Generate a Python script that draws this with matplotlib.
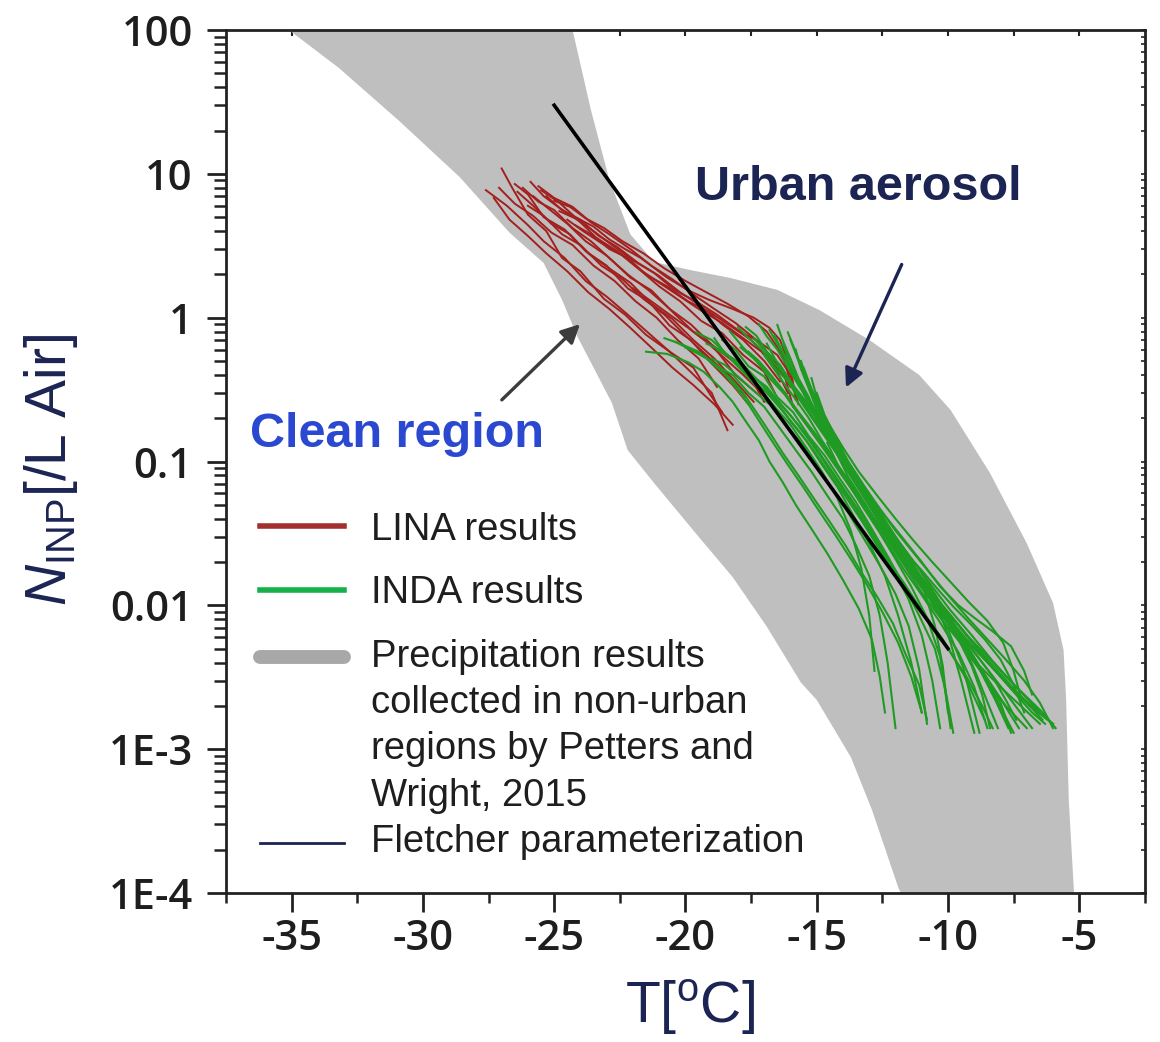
import matplotlib
matplotlib.use("Agg")
import matplotlib.pyplot as plt
from matplotlib.lines import Line2D
from matplotlib.legend_handler import HandlerBase

plt.rcParams['mathtext.fontset'] = 'custom'
plt.rcParams['mathtext.rm'] = 'Liberation Sans'
plt.rcParams['mathtext.it'] = 'Liberation Sans:italic'
plt.rcParams['axes.unicode_minus'] = False

# grey band: Petters and Wright 2015 precipitation results
region_upper_T = [-24.3, -23.6, -22.9, -22.1, -21.2, -19.8, -18.3, -16.5, -14.9, -13.0,
                  -11.1, -9.9, -8.4, -7.0, -6.0, -5.6, -5.5, -5.4, -5.2]
region_upper_N = [100, 27.8, 9.1, 3.8, 2.44, 2.14, 1.89, 1.56, 1.13, 0.70,
                  0.40, 0.228, 0.083, 0.027, 0.0104, 0.0049, 0.0022, 4.4e-4, 1e-4]
region_lower_T = [-35.1, -33.2, -30.9, -28.6, -26.7, -25.4, -24.7, -24.1, -23.5, -22.8,
                  -22.2, -21.2, -19.5, -18.2, -16.9, -15.6, -15.0, -13.7, -12.9, -11.9, -11.8]
region_lower_N = [100, 54.5, 23.3, 9.5, 3.9, 2.4, 1.33, 0.73, 0.45, 0.255,
                  0.12, 0.071, 0.030, 0.0157, 0.0071, 0.0029, 0.0022, 8.8e-4, 3.8e-4, 1.1e-4, 1e-4]

# LINA results (red)
lina_T = [
    [-27.6, -26.8, -26.0, -25.4, -24.6, -23.8, -23.0, -22.2, -21.4, -20.6, -19.8, -19.0, -18.4],
    [-27.0, -26.6, -26.0, -25.3, -24.7, -24.0, -23.1, -22.3, -21.5, -20.6, -19.7, -19.1, -18.6],
    [-26.5, -26.0, -25.4, -24.6, -23.8, -23.0, -22.2, -21.4, -20.6, -19.8, -19.0, -18.2, -17.6],
    [-26.2, -25.6, -25.0, -24.3, -23.6, -22.9, -22.1, -21.3, -20.5, -19.7, -18.9, -18.1, -17.3],
    [-25.9, -25.4, -24.8, -24.1, -23.4, -22.6, -21.8, -21.0, -20.2, -19.4, -18.6, -17.8, -17.0, -16.6],
    [-25.6, -25.0, -24.3, -23.6, -22.9, -22.1, -21.3, -20.5, -19.7, -18.9, -18.1, -17.3, -16.6, -16.0],
    [-25.5, -24.8, -24.2, -23.5, -22.9, -22.3, -21.7, -20.7, -19.9, -19.1, -18.2, -17.4, -16.8, -16.4, -16.0, -15.8],
    [-25.0, -24.4, -23.8, -23.1, -22.4, -21.6, -20.8, -20.0, -19.2, -18.4, -17.6, -16.9, -16.3, -16.0],
    [-27.3, -26.7, -26.0, -25.3, -24.5, -23.7, -22.9, -22.1, -21.3, -20.5, -19.7, -18.9, -18.2],
    [-26.4, -25.8, -25.1, -24.4, -23.7, -22.9, -22.1, -21.3, -20.5, -19.7, -18.9, -18.1, -17.4],
    [-25.3, -24.7, -24.0, -23.3, -22.6, -21.8, -21.0, -20.2, -19.4, -18.6, -17.8, -17.0, -16.4],
    [-24.8, -24.2, -23.5, -22.8, -22.0, -21.2, -20.4, -19.6, -18.8, -18.0, -17.2, -16.5, -16.0, -15.7],
    [-26.0, -25.4, -24.7, -24.0, -23.2, -22.4, -21.6, -20.8, -20.0, -19.2, -18.4, -17.7],
    [-25.8, -25.2, -24.5, -23.8, -23.0, -22.2, -21.4, -20.6, -19.8, -19.0, -18.2, -17.5, -17.0],
    [-24.5, -23.9, -23.2, -22.5, -21.8, -21.0, -20.2, -19.4, -18.6, -17.8, -17.1, -16.5, -16.1],
    [-27.1, -26.5, -25.8, -25.1, -24.3, -23.5, -22.7, -21.9, -21.1, -20.3, -19.5, -18.8],
    [-24.2, -23.6, -22.9, -22.2, -21.5, -20.7, -19.9, -19.1, -18.3, -17.5, -16.8, -16.2, -15.9],
    [-22.0, -21.3, -20.6, -19.9, -19.2, -18.5, -17.8, -17.1, -16.5],
]
lina_N = [
    [7.7, 6.0, 4.4, 3.4, 2.6, 1.8, 1.4, 1.05, 0.78, 0.58, 0.42, 0.30, 0.165],
    [10.9, 8.0, 5.2, 4.0, 2.6, 2.1, 1.35, 1.05, 0.76, 0.58, 0.45, 0.30, 0.22],
    [8.5, 7.2, 5.0, 4.1, 2.9, 2.3, 1.6, 1.3, 0.88, 0.70, 0.48, 0.34, 0.25],
    [8.0, 6.4, 5.6, 4.2, 3.4, 2.6, 1.9, 1.55, 1.1, 0.80, 0.62, 0.40, 0.30],
    [8.8, 7.0, 5.8, 4.8, 3.6, 2.9, 2.2, 1.65, 1.30, 0.95, 0.78, 0.55, 0.42, 0.30],
    [8.2, 6.8, 5.9, 4.6, 3.8, 3.0, 2.3, 1.85, 1.45, 1.15, 0.92, 0.70, 0.50, 0.33],
    [7.7, 6.3, 5.0, 4.3, 3.5, 3.0, 2.6, 1.9, 1.55, 1.33, 1.15, 1.0, 0.85, 0.70, 0.45, 0.27],
    [6.5, 5.9, 4.9, 4.2, 3.4, 2.8, 2.2, 1.8, 1.5, 1.25, 1.02, 0.80, 0.55, 0.36],
    [6.8, 4.8, 3.7, 2.8, 2.1, 1.5, 1.15, 0.85, 0.62, 0.45, 0.34, 0.25, 0.18],
    [7.5, 6.0, 4.5, 3.8, 2.8, 2.2, 1.75, 1.25, 0.98, 0.70, 0.52, 0.36, 0.26],
    [7.0, 5.6, 4.8, 3.7, 3.1, 2.4, 1.95, 1.50, 1.20, 0.90, 0.70, 0.50, 0.36],
    [5.5, 4.9, 4.0, 3.2, 2.5, 2.05, 1.55, 1.30, 1.05, 0.82, 0.68, 0.55, 0.40, 0.25],
    [6.0, 5.1, 3.8, 3.2, 2.3, 1.85, 1.35, 1.05, 0.75, 0.55, 0.40, 0.28],
    [7.0, 5.7, 4.5, 3.4, 2.7, 2.0, 1.55, 1.15, 0.90, 0.65, 0.50, 0.38, 0.26],
    [4.8, 4.0, 3.3, 2.8, 2.2, 1.75, 1.40, 1.12, 0.92, 0.72, 0.58, 0.42, 0.30],
    [8.0, 6.2, 5.1, 3.9, 3.2, 2.3, 1.8, 1.3, 1.0, 0.70, 0.52, 0.33],
    [4.4, 3.8, 3.0, 2.6, 2.0, 1.65, 1.30, 1.10, 0.88, 0.70, 0.52, 0.38, 0.24],
    [1.6, 1.30, 1.05, 0.85, 0.68, 0.52, 0.40, 0.30, 0.22],
]

# INDA results (green)
inda_T = [
    [-21.5, -20.7, -19.9, -19.3, -18.7, -18.2, -17.7, -17.2, -16.8, -16.3, -15.8, -15.2, -14.6, -14.0, -13.4, -12.9, -12.6, -12.4],
    [-20.8, -20.2, -19.5, -18.8, -18.2, -17.6, -17.0, -16.4, -15.8, -15.2, -14.6, -14.0, -13.5, -13.0, -12.6, -12.3, -12.0],
    [-19.6, -19.0, -18.4, -17.8, -17.2, -16.6, -16.0, -15.4, -14.8, -14.2, -13.6, -13.0, -12.4, -11.9, -11.4, -11.0],
    [-19.2, -18.7, -18.1, -17.5, -16.9, -16.3, -15.7, -15.1, -14.5, -13.9, -13.3, -12.7, -12.1, -11.5, -11.0, -10.6, -10.3],
    [-18.6, -18.1, -17.6, -17.0, -16.5, -15.9, -15.3, -14.7, -14.1, -13.5, -12.9, -12.3, -11.7, -11.1, -10.5, -10.1, -9.8],
    [-18.0, -17.6, -17.1, -16.6, -16.1, -15.6, -15.0, -14.4, -13.8, -13.2, -12.6, -12.0, -11.4, -10.7, -10.0, -9.4, -8.8],
    [-17.7, -17.3, -16.9, -16.4, -15.9, -15.4, -14.9, -14.3, -13.7, -13.1, -12.5, -11.9, -11.2, -10.5, -9.7, -9.0, -8.1],
    [-17.2, -16.9, -16.5, -16.1, -15.7, -15.2, -14.7, -14.2, -13.6, -13.0, -12.4, -11.8, -11.1, -10.4, -9.6, -8.6, -7.5],
    [-16.5, -16.3, -16.0, -15.7, -15.3, -14.9, -14.4, -13.9, -13.3, -12.7, -12.1, -11.4, -10.7, -9.9, -9.0, -7.9, -6.8],
    [-16.1, -15.7, -15.3, -14.8, -14.3, -13.7, -13.1, -12.4, -11.7, -11.0, -10.3, -9.6, -9.0, -8.3, -7.6, -7.1, -6.8],
    [-16.8, -16.5, -16.1, -15.7, -15.3, -14.8, -14.3, -13.7, -13.1, -12.5, -11.9, -11.2, -10.5, -9.8, -9.0, -8.0, -6.9, -6.0],
    [-18.8, -18.3, -17.8, -17.2, -16.6, -16.0, -15.4, -14.8, -14.2, -13.6, -13.0, -12.4, -11.7, -11.0, -10.2, -9.4, -8.6],
    [-20.0, -19.4, -18.8, -18.3, -17.8, -17.3, -16.8, -16.3, -15.7, -15.1, -14.5, -13.9, -13.3, -12.7, -12.1, -11.6, -11.1, -10.8],
    [-17.4, -17.0, -16.6, -16.1, -15.6, -15.1, -14.6, -14.0, -13.4, -12.8, -12.2, -11.6, -10.9, -10.2, -9.5, -8.8, -8.2, -7.7],
    [-16.3, -16.0, -15.7, -15.3, -14.9, -14.4, -13.9, -13.3, -12.7, -12.0, -11.3, -10.6, -9.9, -9.1, -8.3, -7.4, -6.5, -6.2],
    [-15.8, -15.6, -15.3, -15.0, -14.6, -14.1, -13.5, -12.9, -12.2, -11.5, -10.9, -10.3, -9.9, -9.5, -9.0],
    [-16.0, -15.6, -15.1, -14.6, -14.0, -13.4, -12.7, -12.0, -11.3, -10.6, -9.9, -9.2, -8.5, -7.9, -7.5, -7.2],
    [-19.0, -18.5, -18.0, -17.4, -16.8, -16.2, -15.6, -15.0, -14.4, -13.8, -13.2, -12.6, -12.0, -11.5, -11.1, -10.8],
    [-17.9, -17.4, -16.9, -16.4, -15.9, -15.3, -14.7, -14.1, -13.5, -12.9, -12.3, -11.7, -11.0, -10.3, -9.6, -9.0, -8.5],
    [-15.5, -15.2, -14.8, -14.3, -13.8, -13.2, -12.6, -12.0, -11.3, -10.6, -9.9, -9.2, -8.5, -7.8, -7.1, -6.5, -6.0],
    [-17.0, -16.7, -16.3, -15.8, -15.3, -14.8, -14.2, -13.6, -13.0, -12.4, -11.8, -11.1, -10.4, -9.7, -8.9, -8.1, -7.3],
    [-18.3, -17.8, -17.3, -16.8, -16.2, -15.6, -15.0, -14.4, -13.8, -13.2, -12.6, -12.0, -11.4, -10.8, -10.3, -9.9],
    [-16.6, -16.3, -15.9, -15.5, -15.0, -14.5, -14.0, -13.4, -12.8, -12.2, -11.6, -11.0, -10.4, -9.8, -9.2, -8.5, -7.8, -7.0],
    [-15.2, -15.0, -14.7, -14.3, -13.9, -13.4, -12.9, -12.3, -11.7, -11.0, -10.3, -9.6, -8.9, -8.2, -7.5, -6.8, -6.3],
    [-14.8, -14.5, -14.1, -13.6, -13.1, -12.6, -12.0, -11.4, -10.8, -10.2, -9.6, -9.1, -8.7, -8.4],
    [-14.2, -13.8, -13.3, -12.8, -12.2, -11.6, -11.0, -10.3, -9.6, -8.9, -8.3, -7.8, -7.4],
    [-13.5, -13.0, -12.5, -12.0, -11.4, -10.8, -10.2, -9.5, -8.8, -8.1, -7.4, -6.7, -6.0],
    [-18.9, -18.6, -18.2, -17.7, -17.2, -16.6, -16.0, -15.4, -14.8, -14.2, -13.7, -13.3, -13.0, -12.8],
    [-16.9, -16.6, -16.2, -15.7, -15.2, -14.6, -14.0, -13.4, -12.8, -12.2, -11.5, -10.9, -10.5, -10.2, -10.0],
    [-16.2, -15.9, -15.5, -15.1, -14.6, -14.1, -13.5, -12.9, -12.3, -11.7, -11.1, -10.5, -9.8, -9.2, -8.6, -8.0, -7.6],
    [-17.6, -17.2, -16.7, -16.2, -15.7, -15.1, -14.5, -13.9, -13.3, -12.7, -12.1, -11.5, -10.9, -10.2, -9.5, -8.8, -8.0, -7.1, -6.5],
    [-15.6, -15.4, -15.1, -14.8, -14.4, -14.0, -13.5, -13.0, -12.5, -11.9, -11.3, -10.6, -9.9, -9.2, -8.5, -7.8, -7.1, -6.4, -5.9],
    [-14.6, -14.2, -13.7, -13.1, -12.4, -11.7, -11.0, -10.4, -9.8, -9.2, -8.6, -8.0, -7.5, -7.1],
    [-20.4, -19.8, -19.2, -18.6, -18.1, -17.6, -17.1, -16.6, -16.1, -15.5, -14.9, -14.3, -13.7, -13.1, -12.5, -11.9, -11.4, -11.0],
    [-18.4, -18.0, -17.5, -16.9, -16.3, -15.7, -15.1, -14.5, -13.9, -13.3, -12.7, -12.1, -11.4, -10.7, -10.0, -9.3, -8.7, -8.3],
    [-15.0, -14.7, -14.3, -13.9, -13.4, -12.9, -12.3, -11.7, -11.1, -10.5, -9.8, -9.1, -8.4, -7.7, -7.0, -6.4],
]
inda_N = [
    [0.58, 0.56, 0.49, 0.42, 0.33, 0.26, 0.19, 0.14, 0.10, 0.072, 0.050, 0.034, 0.023, 0.015, 0.0095, 0.0058, 0.0032, 0.0018],
    [0.72, 0.66, 0.58, 0.46, 0.40, 0.30, 0.24, 0.17, 0.12, 0.085, 0.058, 0.040, 0.026, 0.016, 0.0085, 0.0040, 0.0014],
    [0.79, 0.70, 0.55, 0.47, 0.36, 0.27, 0.19, 0.14, 0.095, 0.066, 0.042, 0.027, 0.016, 0.0085, 0.0040, 0.0018],
    [0.66, 0.60, 0.50, 0.40, 0.33, 0.24, 0.18, 0.13, 0.090, 0.062, 0.043, 0.028, 0.018, 0.011, 0.0062, 0.0030, 0.0014],
    [0.70, 0.60, 0.46, 0.39, 0.28, 0.22, 0.15, 0.11, 0.075, 0.052, 0.034, 0.022, 0.014, 0.0085, 0.0050, 0.0026, 0.0013],
    [0.86, 0.72, 0.60, 0.45, 0.36, 0.26, 0.18, 0.125, 0.085, 0.058, 0.040, 0.026, 0.017, 0.011, 0.0068, 0.0036, 0.0013],
    [0.86, 0.75, 0.58, 0.47, 0.34, 0.26, 0.19, 0.13, 0.090, 0.062, 0.042, 0.028, 0.019, 0.012, 0.0070, 0.0036, 0.0014],
    [0.90, 0.74, 0.60, 0.45, 0.34, 0.25, 0.17, 0.12, 0.080, 0.055, 0.038, 0.025, 0.016, 0.0105, 0.0065, 0.0032, 0.0013],
    [0.89, 0.70, 0.52, 0.38, 0.28, 0.19, 0.13, 0.090, 0.060, 0.040, 0.027, 0.018, 0.012, 0.0078, 0.0047, 0.0026, 0.0014],
    [0.79, 0.52, 0.33, 0.21, 0.14, 0.092, 0.062, 0.042, 0.029, 0.020, 0.0135, 0.0100, 0.0082, 0.0066, 0.0052, 0.0035, 0.0024],
    [0.82, 0.66, 0.48, 0.35, 0.25, 0.17, 0.12, 0.082, 0.056, 0.038, 0.025, 0.017, 0.011, 0.0075, 0.0050, 0.0032, 0.0020, 0.0015],
    [0.60, 0.53, 0.44, 0.36, 0.28, 0.21, 0.15, 0.105, 0.072, 0.050, 0.033, 0.022, 0.0145, 0.0092, 0.0058, 0.0033, 0.0016],
    [0.62, 0.56, 0.46, 0.38, 0.30, 0.22, 0.16, 0.115, 0.080, 0.055, 0.038, 0.026, 0.017, 0.0115, 0.0075, 0.0045, 0.0028, 0.0016],
    [0.72, 0.60, 0.48, 0.38, 0.28, 0.21, 0.15, 0.10, 0.068, 0.046, 0.031, 0.021, 0.0138, 0.0090, 0.0058, 0.0036, 0.0022, 0.0014],
    [0.65, 0.50, 0.37, 0.26, 0.19, 0.135, 0.092, 0.064, 0.044, 0.030, 0.020, 0.0135, 0.0092, 0.0062, 0.0041, 0.0027, 0.0018, 0.0016],
    [0.60, 0.44, 0.32, 0.23, 0.16, 0.11, 0.074, 0.050, 0.034, 0.022, 0.0140, 0.0088, 0.0055, 0.0030, 0.0013],
    [0.70, 0.45, 0.29, 0.19, 0.125, 0.085, 0.058, 0.040, 0.028, 0.020, 0.0145, 0.0105, 0.0078, 0.0055, 0.0035, 0.0022],
    [0.52, 0.47, 0.39, 0.31, 0.25, 0.18, 0.135, 0.095, 0.064, 0.044, 0.029, 0.019, 0.012, 0.0072, 0.0036, 0.0015],
    [0.62, 0.52, 0.42, 0.33, 0.24, 0.17, 0.120, 0.083, 0.058, 0.040, 0.027, 0.018, 0.0118, 0.0076, 0.0047, 0.0027, 0.0014],
    [0.45, 0.32, 0.22, 0.15, 0.10, 0.068, 0.047, 0.033, 0.023, 0.0160, 0.0112, 0.0080, 0.0058, 0.0042, 0.0030, 0.0021, 0.0014],
    [0.55, 0.46, 0.36, 0.27, 0.20, 0.14, 0.095, 0.066, 0.045, 0.031, 0.021, 0.014, 0.0094, 0.0062, 0.0040, 0.0024, 0.0014],
    [0.80, 0.62, 0.50, 0.38, 0.29, 0.21, 0.150, 0.105, 0.070, 0.047, 0.032, 0.021, 0.0135, 0.0082, 0.0044, 0.0014],
    [0.75, 0.58, 0.42, 0.31, 0.22, 0.155, 0.105, 0.072, 0.049, 0.033, 0.022, 0.015, 0.0100, 0.0068, 0.0045, 0.0030, 0.0020, 0.0014],
    [0.38, 0.28, 0.20, 0.145, 0.100, 0.070, 0.048, 0.033, 0.023, 0.0155, 0.0105, 0.0073, 0.0050, 0.0035, 0.0025, 0.0018, 0.0015],
    [0.22, 0.16, 0.115, 0.080, 0.056, 0.039, 0.027, 0.018, 0.0125, 0.0085, 0.0058, 0.0038, 0.0024, 0.0014],
    [0.11, 0.078, 0.056, 0.040, 0.028, 0.020, 0.014, 0.0095, 0.0065, 0.0045, 0.0032, 0.0022, 0.0016],
    [0.060, 0.044, 0.033, 0.024, 0.017, 0.012, 0.0088, 0.0063, 0.0046, 0.0034, 0.0025, 0.0019, 0.0015],
    [0.72, 0.60, 0.50, 0.40, 0.32, 0.24, 0.18, 0.125, 0.085, 0.055, 0.033, 0.018, 0.0085, 0.0035],
    [0.66, 0.52, 0.40, 0.29, 0.21, 0.145, 0.100, 0.068, 0.046, 0.031, 0.020, 0.0125, 0.0072, 0.0038, 0.0018],
    [0.55, 0.42, 0.31, 0.22, 0.158, 0.11, 0.076, 0.052, 0.036, 0.024, 0.0165, 0.0112, 0.0076, 0.0050, 0.0033, 0.0021, 0.0013],
    [0.58, 0.50, 0.39, 0.30, 0.22, 0.16, 0.112, 0.078, 0.054, 0.037, 0.025, 0.017, 0.0115, 0.0078, 0.0054, 0.0038, 0.0027, 0.0019, 0.0015],
    [0.50, 0.38, 0.28, 0.20, 0.145, 0.102, 0.072, 0.050, 0.036, 0.025, 0.0175, 0.0120, 0.0085, 0.0060, 0.0044, 0.0032, 0.0024, 0.0018, 0.0014],
    [0.135, 0.095, 0.066, 0.046, 0.033, 0.024, 0.0175, 0.013, 0.0098, 0.0076, 0.0058, 0.0042, 0.0028, 0.0018],
    [0.68, 0.60, 0.52, 0.42, 0.33, 0.25, 0.18, 0.13, 0.095, 0.066, 0.045, 0.031, 0.021, 0.014, 0.0090, 0.0055, 0.0032, 0.0018],
    [0.55, 0.48, 0.38, 0.30, 0.225, 0.165, 0.118, 0.082, 0.057, 0.039, 0.026, 0.0175, 0.0115, 0.0076, 0.0050, 0.0032, 0.0020, 0.0014],
    [0.30, 0.21, 0.15, 0.105, 0.073, 0.051, 0.035, 0.024, 0.0165, 0.0115, 0.0080, 0.0056, 0.0040, 0.0029, 0.0021, 0.0016],
]

# Fletcher parameterization
fletcher_T = [-25, -10]
fletcher_N = [30, 0.005]

y_ticks = [1e-4, 1e-3, 1e-2, 1e-1, 1, 10, 100]
y_labels = ['1E-4', '1E-3', '0.01', '0.1', '1', '10', '100']
x_ticks = [-35, -30, -25, -20, -15, -10, -5]

navy = '#1b2452'
red = '#a3201f'
green = '#1f9a22'
grey = '#bfbfbf'
LINE_STEP = 1.217


class HandlerTwoRows(HandlerBase):
    # grey line next to the first text row, navy line next to the last one
    def create_artists(self, legend, orig_handle, xdescent, ydescent,
                       width, height, fontsize, trans):
        top, bottom = orig_handle
        yc = (height - ydescent) / 2
        off = 2 * LINE_STEP * fontsize
        xs = [-xdescent, -xdescent + width]
        out = []
        for h, y in ((top, yc + off), (bottom, yc - off)):
            ln = Line2D(xs, [y, y], color=h.get_color(), lw=h.get_linewidth(),
                        solid_capstyle=h.get_solid_capstyle())
            ln.set_transform(trans)
            out.append(ln)
        return out


fig = plt.figure(figsize=(11.6, 10.42), dpi=100)
ax = fig.add_axes([0.1948, 0.1430, 0.7922, 0.8282])

ax.fill(region_upper_T + region_lower_T[::-1], region_upper_N + region_lower_N[::-1],
        color=grey, lw=0, zorder=1)

for t, n in zip(lina_T, lina_N):
    ax.plot(t, n, color=red, lw=1.4, zorder=2)
for t, n in zip(inda_T, inda_N):
    ax.plot(t, n, color=green, lw=1.5, zorder=3)
ax.plot(fletcher_T, fletcher_N, color='black', lw=2.6, zorder=4)

ax.set_yscale('log')
ax.set_xlim(-37.5, -2.5)
ax.set_ylim(1e-4, 100)
ax.set_yticks(y_ticks, y_labels)
ax.set_xticks(x_ticks)
ax.set_xticks([-37.5, -32.5, -27.5, -22.5, -17.5, -12.5, -7.5, -2.5], minor=True)

tick_font = dict(family='Open Sans', weight='semibold', size=30)
for lab in ax.get_xticklabels() + ax.get_yticklabels():
    lab.set_fontproperties(matplotlib.font_manager.FontProperties(**tick_font))
    lab.set_color('#1e1e1e')

for s in ax.spines.values():
    s.set_linewidth(2.0)
    s.set_color('#222222')
ax.tick_params(axis='both', which='major', direction='out', length=14, width=2, color='#222222')
ax.tick_params(axis='y', which='minor', direction='out', length=9, width=1.8, color='#222222')
ax.tick_params(axis='x', which='minor', direction='out', length=7, width=1.8, color='#222222')
ax.tick_params(axis='y', pad=10)
ax.tick_params(axis='x', pad=4)

top = ax.secondary_xaxis('top')
top.set_xticks(x_ticks + [-32.5, -27.5, -22.5, -17.5, -12.5, -7.5])
top.tick_params(direction='in', length=4, width=1.5, labeltop=False, color='#222222')
top.spines['top'].set_visible(False)
right = ax.secondary_yaxis('right')
right.tick_params(which='both', direction='in', length=3, width=1.2, labelright=False, color='#222222')
right.spines['right'].set_visible(False)

ax.set_xlabel('T[$^{\\mathrm{o}}$C]', fontsize=41, color=navy, family='Liberation Sans')
ax.set_ylabel('$N_{\\mathrm{INP}}$[/L Air]', fontsize=41, color=navy, family='Liberation Sans')
ax.xaxis.set_label_coords(0.505, -0.098)
ax.yaxis.set_label_coords(-0.159, 0.49)

ax.text(-13.4, 8.0, 'Urban aerosol', fontsize=35, fontweight='bold', color=navy,
        family='Liberation Sans', ha='center', va='center')
ax.text(-31.0, 0.153, 'Clean region', fontsize=35, fontweight='bold', color='#2a48d0',
        family='Liberation Sans', ha='center', va='center')
ax.annotate('', xy=(-13.93, 0.314), xytext=(-11.72, 2.44),
            arrowprops=dict(arrowstyle='-|>', color=navy, lw=2.4, mutation_scale=28))
ax.annotate('', xy=(-23.94, 0.93), xytext=(-27.07, 0.26),
            arrowprops=dict(arrowstyle='-|>', color='#3c3c3c', lw=2.4, mutation_scale=28))

h_lina = Line2D([], [], color='#a3302e', lw=4)
h_inda = Line2D([], [], color='#16b04a', lw=4)
h_prec = Line2D([], [], color='#a8a8a8', lw=10, solid_capstyle='round')
h_flet = Line2D([], [], color=navy, lw=2)
leg = ax.legend([h_lina, h_inda, (h_prec, h_flet)],
                ['LINA results', 'INDA results',
                 'Precipitation results\ncollected in non-urban\nregions by Petters and\nWright, 2015\nFletcher parameterization'],
                handler_map={tuple: HandlerTwoRows()},
                loc='upper left', bbox_to_anchor=(0.037, 0.442), frameon=False,
                borderpad=0, borderaxespad=0, handlelength=2.2, handletextpad=0.7,
                labelspacing=0.72, prop={'family': 'Liberation Sans', 'size': 27.5})
for t in leg.get_texts():
    t.set_linespacing(1.37)
    t.set_color('#1e1e1e')

fig.savefig('out.png', dpi=100)
